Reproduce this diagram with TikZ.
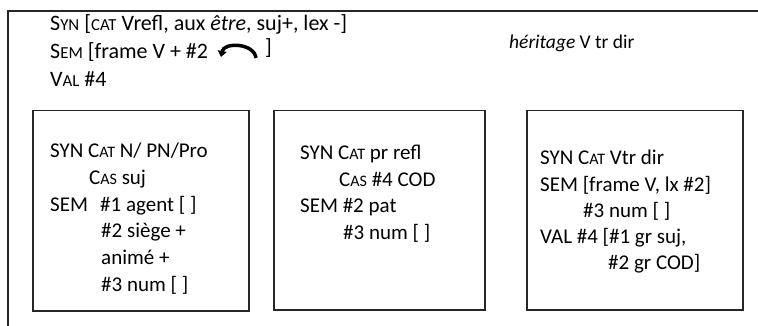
\documentclass[tikz,border=0pt]{standalone}
\usepackage{fontspec}
\setmainfont{Carlito}
\usetikzlibrary{arrows.meta,calc}
% reduced capitals standing in for small caps
\newcommand\lsc[1]{{\fontsize{16}{18}\selectfont #1}}
\newcommand\hsc[1]{{\fontsize{16.8}{19}\selectfont #1}}
\begin{document}
\begin{tikzpicture}[x=1pt,y=-1pt,
  txt/.style={anchor=mid west, inner sep=0pt, font=\fontsize{21}{25}\selectfont},
  head/.style={txt, font=\fontsize{22}{26}\selectfont},
  panel/.style={draw=black!85, line width=1.5pt, anchor=north west, inner sep=0pt},
  frameline/.style={draw=black!85, line width=2.2pt}]
\useasboundingbox (0,0) rectangle (758,326);

% outer frame, open to the right and bottom
\coordinate (ftr) at (758,11);
\coordinate (ftl) at (8,11);
\coordinate (fbl) at (8,326);
\draw[frameline] (ftr) -- (ftl) -- (fbl);

% head entry
\node[head] (h1) at (50,28) {S\hsc{YN} [\hsc{CAT} Vrefl, aux \textit{être}, suj+, lex -]};
\node[head] (h2) at (50,56) {S\hsc{EM} [frame V + \#2};
\node[head] (h2b) at ($(h2.west)+(215,0)$) {]};
\node[head] (h3) at (50,84) {V\hsc{AL} \#4};
\node[txt, font=\fontsize{19.5}{23}\selectfont] (inh) at (509,46) {\textit{héritage} V tr dir};

% curved arrow symbol inside the SEM bracket
\coordinate (arcR) at ($(h2.west)+(206,6)$);
\coordinate (arcL) at ($(h2.west)+(171,5)$);
\draw[line width=3.5pt, -{Triangle[length=6pt,width=9pt]}]
  (arcR) .. controls ($(arcR)+(-2,-15)$) and ($(arcL)+(3,-15)$) .. (arcL);

% three panels
\node[panel, minimum width=216pt, minimum height=200pt] (box1) at (32,110) {};
\node[panel, minimum width=211pt, minimum height=199pt] (box2) at (273,110) {};
\node[panel, minimum width=216pt, minimum height=199pt] (box3) at (526,110) {};

% panel 1
\node[txt] (a1) at (50,155) {SYN C\lsc{AT} N/ PN/Pro};
\node[txt] (a2) at (89,182) {C\lsc{AS} suj};
\node[txt] (a3) at (50,209) {SEM};
\node[txt] (a4) at (100,209) {\#1 agent [ ]};
\node[txt] (a5) at (101,235) {\#2 siège +};
\node[txt] (a6) at (101,262) {animé +};
\node[txt] (a7) at (101,289) {\#3 num [ ]};

% panel 2
\node[txt] (b1) at (300,157) {SYN C\lsc{AT} pr refl};
\node[txt] (b2) at (339,184) {C\lsc{AS} \#4 COD};
\node[txt] (b3) at (300,210) {SEM \#2 pat};
\node[txt] (b4) at (343,237) {\#3 num [ ]};

% panel 3
\node[txt] (c1) at (540,162) {SYN C\lsc{AT} Vtr dir};
\node[txt] (c2) at (540,189) {SEM [frame V, lx \#2]};
\node[txt] (c3) at (583,215) {\#3 num [ ]};
\node[txt] (c4) at (540,241) {VAL \#4 [\#1 gr suj,};
\node[txt] (c5) at (608,267) {\#2 gr COD]};
\end{tikzpicture}
\end{document}
